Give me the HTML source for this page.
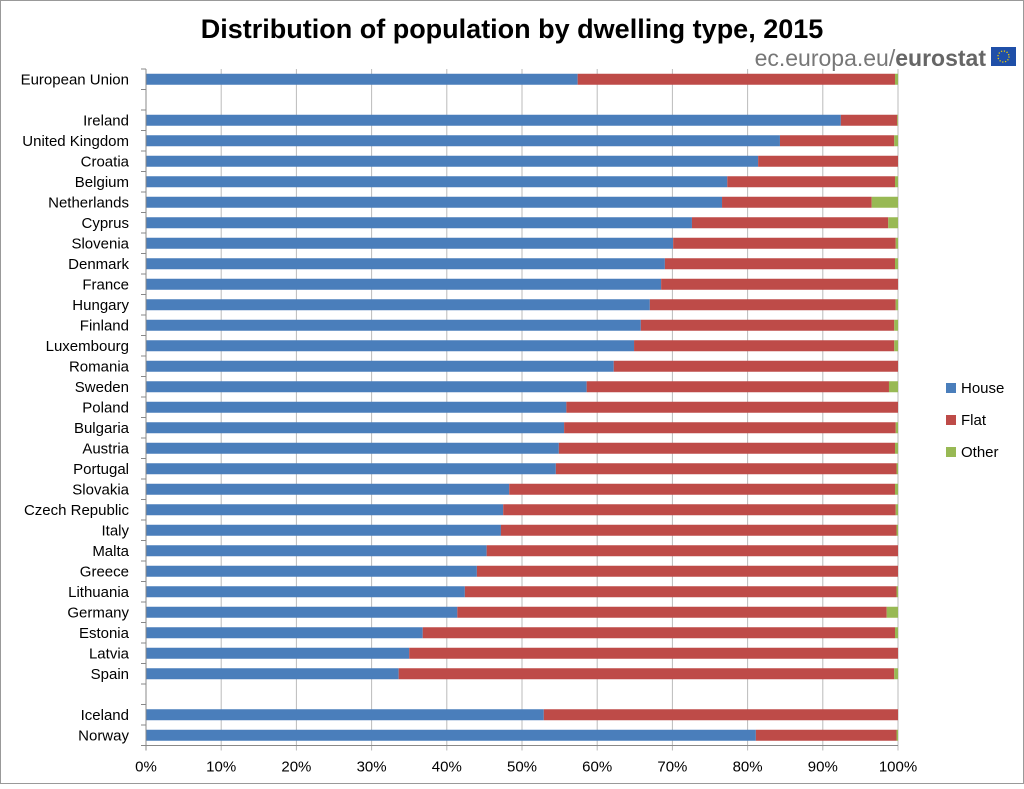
<!DOCTYPE html>
<html><head><meta charset="utf-8"><style>
body{margin:0;background:#fff;}
svg text{font-family:"Liberation Sans",Calibri,sans-serif;}
</style></head><body>
<svg id="chart" width="1024" height="784" xmlns="http://www.w3.org/2000/svg">
<rect x="0.5" y="0.5" width="1023" height="783" fill="#fff" stroke="#999"/>
<text x="512" y="38" text-anchor="middle" font-size="27" font-weight="bold" fill="#000">Distribution of population by dwelling type, 2015</text>
<text x="986" y="66" text-anchor="end" font-size="23" fill="#777">ec.europa.eu/<tspan font-weight="bold" fill="#666">eurostat</tspan></text>
<g><rect x="991" y="47" width="25" height="19" fill="#1f4fa8"/><circle cx="1003.5" cy="56.5" r="5.5" fill="none" stroke="#f5d000" stroke-dasharray="1.2 1.7" stroke-width="1.3"/></g>
<g id="grid"></g><g id="bars"></g><g id="axes"></g>
<g>
<rect x="946" y="383" width="10" height="10" fill="#4a7ebb"/>
<text x="961" y="393" font-size="15">House</text>
<rect x="946" y="415" width="10" height="10" fill="#be4b48"/>
<text x="961" y="425" font-size="15">Flat</text>
<rect x="946" y="447" width="10" height="10" fill="#98b954"/>
<text x="961" y="457" font-size="15">Other</text>
</g>
</svg>
<script>
const categories=["European Union","","Ireland","United Kingdom","Croatia","Belgium","Netherlands","Cyprus","Slovenia","Denmark","France","Hungary","Finland","Luxembourg","Romania","Sweden","Poland","Bulgaria","Austria","Portugal","Slovakia","Czech Republic","Italy","Malta","Greece","Lithuania","Germany","Estonia","Latvia","Spain","","Iceland","Norway"];
const house=[57.4,null,92.4,84.3,81.4,77.3,76.6,72.6,70.1,69.0,68.5,67.0,65.8,64.9,62.2,58.6,55.9,55.6,54.9,54.5,48.3,47.5,47.2,45.3,44.0,42.4,41.4,36.8,35.0,33.6,null,52.9,81.1];
const flat=[42.2,null,7.5,15.2,18.6,22.3,19.9,26.1,29.6,30.6,31.5,32.7,33.7,34.6,37.8,40.2,44.1,44.1,44.7,45.3,51.3,52.2,52.6,54.7,56.0,57.4,57.1,62.8,65.0,65.9,null,47.1,18.7];
const other=[0.4,null,0.1,0.5,0,0.4,3.5,1.3,0.3,0.4,0,0.3,0.5,0.5,0,1.2,0,0.3,0.4,0.2,0.4,0.3,0.2,0,0,0.2,1.5,0.4,0,0.5,null,0,0.2];
const ticks=["0%","10%","20%","30%","40%","50%","60%","70%","80%","90%","100%"];
const NS="http://www.w3.org/2000/svg";
const x0=146,x1=898,yTop=69,rowH=20.5,barH=11,yBot=yTop+rowH*categories.length;
const xs=v=>x0+(x1-x0)*v/100;
const yc=i=>yTop+rowH*(i+0.5);
function mk(t,a,p){const e=document.createElementNS(NS,t);for(const k in a)e.setAttribute(k,a[k]);p.appendChild(e);return e;}
const grid=document.getElementById('grid'),bars=document.getElementById('bars'),axes=document.getElementById('axes');
ticks.forEach((t,i)=>{const x=xs(i*10);
 const g=mk('line',{x1:x,x2:x,y1:yTop,y2:yBot+5,stroke:i==0?'#888':'#bbb','stroke-width':1},i==0?axes:grid);
 
 
 const tx=mk('text',{x:x,y:yBot+26,'text-anchor':'middle','font-size':15},axes);tx.textContent=t;
 
 
});
const ax=mk('line',{x1:x0,x2:x1,y1:yBot,y2:yBot,stroke:'#888'},axes);


for(let i=0;i<=categories.length;i++){const tk=mk('line',{x1:x0-5,x2:x0,y1:yTop+rowH*i,y2:yTop+rowH*i,stroke:'#888'},axes);
 
 }
const cols=['#4a7ebb','#be4b48','#98b954'],names=['house','flat','other'];
categories.forEach((c,i)=>{
 if(c){const t=mk('text',{x:x0-17,y:yc(i)+5,'text-anchor':'end','font-size':15},axes);t.textContent=c;
  
  }
 if(house[i]==null)return;
 let acc=0;[house[i],flat[i],other[i]].forEach((v,k)=>{
  const r=mk('rect',{x:xs(acc),y:yc(i)-barH/2,width:Math.max(0,xs(acc+v)-xs(acc)),height:barH,fill:cols[k]},bars);
  
  
  acc+=v;});
});
</script>
</body></html>
